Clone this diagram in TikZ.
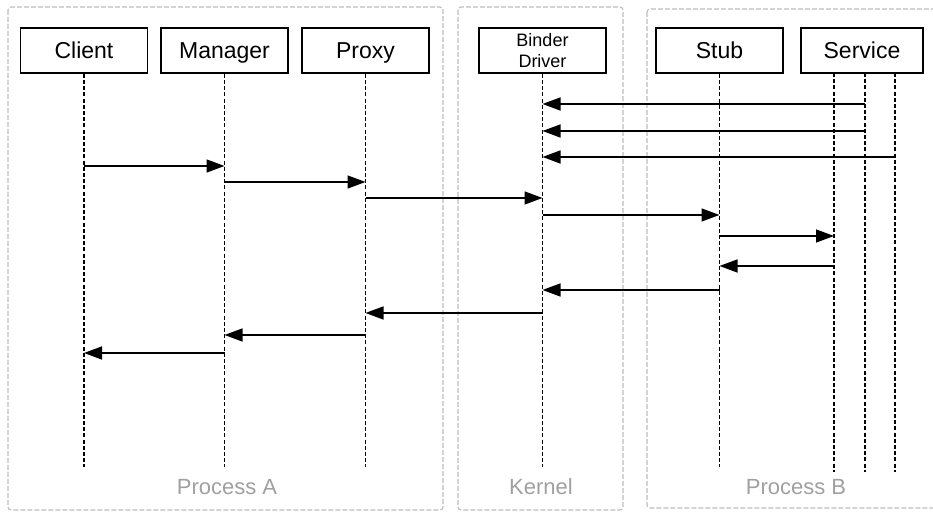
\documentclass[tikz,border=0pt]{standalone}
\usepackage{fontspec}
\setmainfont{Liberation Sans}
\usetikzlibrary{arrows.meta}
\definecolor{boxgray}{HTML}{BDBDBD}
\definecolor{textgray}{HTML}{A0A0A0}

\begin{document}
\begin{tikzpicture}[x=0.5pt,y=-0.5pt,
    >={Triangle[length=9pt,width=6.5pt]},
    lifeline/.style={draw=black,line width=0.7pt,dash pattern=on 2pt off 1.1pt},
    msg/.style={draw=black,line width=0.75pt,->}]
                            \useasboundingbox (0,0) rectangle (933,512);
                            % process frames
                            \begin{scope}[every path/.style={draw=boxgray,line width=0.55pt,dash pattern=on 2.5pt off 1pt,rounded corners=1.5pt}]
                                \draw (8,7) rectangle (443,510);
                                \draw (458,7) rectangle (623,510);
                                \draw (647,9) rectangle (940,508);
                            \end{scope}
                            \begin{scope}[every node/.style={text=textgray,font=\fontsize{11}{13}\selectfont}]
                                \node (LA) at (227,487) {Process A};
                                \node (LK) at (541,487) {Kernel};
                                \node (LB) at (796,487) {Process B};
                            \end{scope}
                            % participants
                            \begin{scope}[every node/.style={draw=black,line width=0.8pt,minimum width=63.5pt,minimum height=22.5pt,inner sep=0pt,text height=9.3pt,text depth=1.1pt,font=\fontsize{11.5}{13}\selectfont}]
                                \node (C) at (84,50.5) {Client};
                                \node (M) at (224.5,50.5) {Manager};
                                \node (P) at (365.5,50.5) {Proxy};
                                \node[align=center,text height=,text depth=,font=\fontsize{9}{10.8}\selectfont] (K) at (542.5,50.5) {Binder\\Driver};
                                \node (S) at (719.5,50.5) {Stub};
                                \node[minimum width=61pt] (V) at (862,50.5) {Service};
                            \end{scope}
                            \coordinate (V1) at (834,73);
                            \coordinate (V2) at (865,73);
                            \coordinate (V3) at (895,73);
                            % lifelines
                            \begin{scope}[every path/.style={lifeline}]
                                \draw (C.south) -- (C.south |- 0,467);
                                \draw (M.south) -- (M.south |- 0,467);
                                \draw (P.south) -- (P.south |- 0,467);
                                \draw (K.south) -- (K.south |- 0,467);
                                \draw (S.south) -- (S.south |- 0,467);
                                \draw (V1) -- (V1 |- 0,472);
                                \draw (V2) -- (V2 |- 0,472);
                                \draw (V3) -- (V3 |- 0,472);
                            \end{scope}
                            % messages
                            \begin{scope}[every path/.style={msg}]
                                \draw (V2 |- 0,104) -- (K |- 0,104);
                                \draw (V2 |- 0,131) -- (K |- 0,131);
                                \draw (V3 |- 0,157) -- (K |- 0,157);
                                \draw (C |- 0,166) -- (M |- 0,166);
                                \draw (M |- 0,182) -- (P |- 0,182);
                                \draw (P |- 0,198) -- (K |- 0,198);
                                \draw (K |- 0,215) -- (S |- 0,215);
                                \draw (S |- 0,236) -- (V1 |- 0,236);
                                \draw (V1 |- 0,266) -- (S |- 0,266);
                                \draw (S |- 0,290) -- (K |- 0,290);
                                \draw (K |- 0,313) -- (P |- 0,313);
                                \draw (P |- 0,335) -- (M |- 0,335);
                                \draw (M |- 0,353) -- (C |- 0,353);
                            \end{scope}
                        \end{tikzpicture}
\end{document}
